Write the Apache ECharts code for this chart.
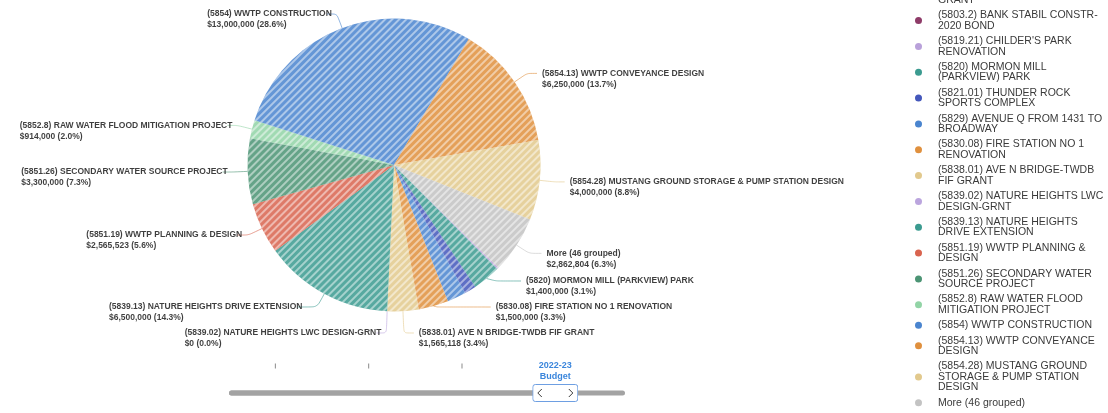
<!DOCTYPE html>
<html>
<head>
<meta charset="utf-8">
<title>Capital Projects – 2022-23 Budget</title>
<script src="https://cdn.jsdelivr.net/npm/echarts@6/dist/echarts.min.js"></script>
<style>
  html, body { margin: 0; padding: 0; background: #fff; }
  #chart { width: 1108px; height: 413px; }
</style>
</head>
<body>
<div id="chart"></div>
<script>
// ---- data -------------------------------------------------------------
const projects = [
  '(5801.35) PARKS IMPROVEMENT GRANT',
  '(5803.2) BANK STABIL CONSTR- 2020 BOND',
  "(5819.21) CHILDER'S PARK RENOVATION",
  '(5820) MORMON MILL (PARKVIEW) PARK',
  '(5821.01) THUNDER ROCK SPORTS COMPLEX',
  '(5829) AVENUE Q FROM 1431 TO BROADWAY',
  '(5830.08) FIRE STATION NO 1 RENOVATION',
  '(5838.01) AVE N BRIDGE-TWDB FIF GRANT',
  '(5839.02) NATURE HEIGHTS LWC DESIGN-GRNT',
  '(5839.13) NATURE HEIGHTS DRIVE EXTENSION',
  '(5851.19) WWTP PLANNING & DESIGN',
  '(5851.26) SECONDARY WATER SOURCE PROJECT',
  '(5852.8) RAW WATER FLOOD MITIGATION PROJECT',
  '(5854) WWTP CONSTRUCTION',
  '(5854.13) WWTP CONVEYANCE DESIGN',
  '(5854.28) MUSTANG GROUND STORAGE & PUMP STATION DESIGN',
  'More (46 grouped)'
];

const budget = [
  0, 0, 95000, 1400000, 580000, 948000, 1500000, 1565118, 0,
  6500000, 2565523, 3300000, 914000, 13000000, 6250000, 4000000, 2862804
];

const sliceColors = [
  '#5b7fc7', '#8e3b68', '#b9a1da', '#3b9b90', '#4457bb', '#4a85cf',
  '#e0903e', '#e2c98d', '#bba5de', '#3b9b90', '#d9644f', '#4c9474',
  '#92d4a6', '#4a85cf', '#e0903e', '#e2c98d', '#c3c3c3'
];

// small slices whose labels are left off to keep the outside labels readable
const unlabeled = [
  '(5801.35) PARKS IMPROVEMENT GRANT',
  '(5803.2) BANK STABIL CONSTR- 2020 BOND',
  "(5819.21) CHILDER'S PARK RENOVATION",
  '(5821.01) THUNDER ROCK SPORTS COMPLEX',
  '(5829) AVENUE Q FROM 1431 TO BROADWAY'
];

// budget-year slider
const fiscalYears  = [2019, 2020, 2021, 2022];
const fiscalLabels = ['2019-20 Budget', '2020-21 Budget', '2021-22 Budget', '2022-23 Budget'];
const sliderRange  = [2018.53, 2022.72];
const currentYear  = 2022;

// ---- layout constants -------------------------------------------------
const FONT = '"Liberation Sans", Arial, Helvetica, sans-serif';
const PIE = { cx: 394, cy: 165, r: 146.5 };
const LINE = { length: 15, length2: 10 };
const LABEL_BAND = [0, 346];     // vertical room for outside labels
const LABEL_PITCH = 26;          // minimum distance between stacked labels
const TEXT_NUDGE = 5;            // text sits this far right of the line end
const pieBox = { left: -60, right: -60, top: 0, bottom: 0 };

// ---- helpers ----------------------------------------------------------
const total = budget.reduce((a, b) => a + b, 0);
const money = v => '$' + v.toLocaleString('en-US');
const share = v => (v / total * 100).toFixed(1) + '%';

const pieData = projects.map((name, i) => {
  const item = { name: name, value: budget[i] };
  if (unlabeled.indexOf(name) >= 0) {
    item.label = { show: false };
    item.labelLine = { show: false };
  }
  return item;
});

const labelToken = {
  fontFamily: FONT, fontSize: 8.5, fontWeight: 'bold',
  color: '#1e1e1e', lineHeight: 11, align: 'left'
};

// Outside-label placement: labels on each side are stacked downward when they
// collide, pushed back up from the bottom of the band if they overflow it, and
// then re-aligned on an ellipse around the pie.
const naturalLabels = {};
let placedLabels = null;

function stackSide(list) {
  const h = LABEL_PITCH;
  list.sort((a, b) => a.y - b.y);
  let moved = false;
  let lastBottom = LABEL_BAND[0];
  list.forEach(it => {
    if (it.y - h / 2 < lastBottom) { it.y = lastBottom + h / 2; moved = true; }
    lastBottom = it.y + h / 2;
  });
  const last = list[list.length - 1];
  if (last && last.y + h / 2 > LABEL_BAND[1]) {
    last.y = LABEL_BAND[1] - h / 2;
    moved = true;
    for (let j = list.length - 2; j >= 0; j--) {
      const nextTop = list[j + 1].y - h / 2;
      if (list[j].y + h / 2 > nextTop) list[j].y = nextTop - h / 2;
      else break;
    }
  }
  return moved;
}

function alignOnEllipse(list, dir) {
  const rA = PIE.r + LINE.length;
  [list.filter(it => it.y <= PIE.cy), list.filter(it => it.y > PIE.cy)].forEach(semi => {
    if (!semi.length) return;
    let far = semi[0];
    semi.forEach(it => { if (Math.abs(it.y - PIE.cy) >= Math.abs(far.y - PIE.cy)) far = it; });
    const dyF = Math.abs(far.y - PIE.cy);
    const dxF = Math.abs(far.pts[1][0] - PIE.cx);
    const rB = dxF < rA ? Math.sqrt(dyF * dyF / (1 - dxF * dxF / (rA * rA))) : rA;
    semi.forEach(it => {
      const dy = Math.abs(it.y - PIE.cy);
      const dx = Math.sqrt(Math.max(0, 1 - dy * dy / (rB * rB))) * rA;
      it.x3 = PIE.cx + (dx + LINE.length2) * dir;
    });
  });
}

function placeLabels() {
  const sides = { '1': [], '-1': [] };
  Object.keys(naturalLabels).forEach(k => {
    const p = naturalLabels[k];
    const pts = p.labelLinePoints;
    if (!pts || pts.length < 3 || unlabeled.indexOf(projects[+k]) >= 0) return;
    const dir = p.align === 'right' ? -1 : 1;
    sides[dir].push({ i: +k, pts: pts, dir: dir, y: pts[1][1], x3: pts[2][0] });
  });
  const out = {};
  ['1', '-1'].forEach(key => {
    const list = sides[key];
    if (stackSide(list)) alignOnEllipse(list, +key);
    list.forEach(it => {
      out[it.i] = {
        x: it.x3 + TEXT_NUDGE,
        y: it.y,
        labelLinePoints: [
          [it.pts[0][0], it.pts[0][1]],
          [it.pts[1][0], it.y],
          [it.x3, it.y]
        ]
      };
    });
  });
  return out;
}

function pieLabelLayout(params) {
  if (!placedLabels) {
    naturalLabels[params.dataIndex] = params;
    return {};
  }
  return placedLabels[params.dataIndex] || {};
}

const timelineData = [sliderRange[0]].concat(fiscalYears, [sliderRange[1]]);
const currentIndex = timelineData.indexOf(currentYear);

const handleSvg =
  '<svg xmlns="http://www.w3.org/2000/svg" width="46" height="18" viewBox="0 0 46 18">' +
  '<rect x="0.5" y="0.5" width="45" height="17" rx="2.5" fill="#ffffff" stroke="#6e9fe2"/>' +
  '<path d="M9.5 5 L5.5 9 L9.5 13 M36.5 5 L40.5 9 L36.5 13" fill="none" stroke="#3a3a3a" stroke-width="1"/>' +
  '</svg>';

// ---- chart ------------------------------------------------------------
const chart = echarts.init(document.getElementById('chart'));

const option = {
  animation: false,
  color: sliceColors,
  textStyle: { fontFamily: FONT },
  legend: {
    orient: 'vertical',
    left: 915,
    top: -16,
    height: 600,
    padding: 0,
    itemGap: 4.33,
    itemWidth: 29,
    itemHeight: 7,
    icon: 'circle',
    selectedMode: false,
    itemStyle: { decal: 'none', opacity: 1, borderWidth: 0 },
    textStyle: {
      fontFamily: FONT, fontSize: 10.5, lineHeight: 10.5,
      color: '#3a3a3a', width: 170, overflow: 'break'
    }
  },
  timeline: {
    axisType: 'value',
    data: timelineData,
    currentIndex: currentIndex,
    autoPlay: false,
    left: 231.5,
    width: 391,
    bottom: 11,
    height: 50,
    padding: 0,
    symbol: 'none',
    symbolSize: 0,
    lineStyle: { color: '#a3a3a3', width: 5, cap: 'round' },
    itemStyle: { color: '#a3a3a3', borderWidth: 0 },
    progress: {
      lineStyle: { color: '#a3a3a3' },
      itemStyle: { color: '#a3a3a3' }
    },
    controlStyle: { show: false },
    label: {
      position: -10.5,
      color: '#888',
      formatter: function (value, index) {
        if (index === 0 || index === timelineData.length - 1) return '';
        if (value === currentYear) {
          const txt = fiscalLabels[fiscalYears.indexOf(value)].split(' ');
          return '{cur|' + txt[0] + '}\n{cur|' + txt[1] + '}';
        }
        return '{tick| }\n{gap| }';
      },
      rich: {
        cur: { fontFamily: FONT, fontSize: 9, fontWeight: 'bold', color: '#3b86dc', lineHeight: 11 },
        tick: { width: 1, height: 5, lineHeight: 11, backgroundColor: '#8a8a8a' },
        gap: { fontSize: 9, lineHeight: 11 }
      }
    },
    emphasis: {
      label: { color: '#888' },
      itemStyle: { color: '#a3a3a3' }
    },
    checkpointStyle: {
      symbol: 'image://data:image/svg+xml;charset=utf-8,' + encodeURIComponent(handleSvg),
      symbolSize: [46, 18],
      color: '#fff',
      borderWidth: 0,
      shadowBlur: 0,
      shadowOffsetX: 0,
      shadowOffsetY: 0,
      shadowColor: 'transparent',
      animation: false
    }
  },
  series: [{
    type: 'pie',
    left: pieBox.left,
    right: pieBox.right,
    top: pieBox.top,
    bottom: pieBox.bottom,
    center: [PIE.cx - pieBox.left, PIE.cy - pieBox.top],
    radius: PIE.r,
    startAngle: 315.5,
    clockwise: true,
    avoidLabelOverlap: false,
    data: pieData,
    itemStyle: {
      borderWidth: 0,
      opacity: 0.86,
      decal: {
        symbol: 'rect',
        symbolSize: 1,
        dashArrayX: [1, 0],
        dashArrayY: [1.7, 2.5],
        rotation: -Math.PI / 4,
        color: 'rgba(255,255,255,0.55)'
      }
    },
    label: {
      show: true,
      position: 'outside',
      distanceToLabelLine: 5,
      padding: [6.5, 0, -4.5, 0],
      formatter: function (p) {
        return '{n|' + p.name + '}\n{v|' + money(p.value) + ' (' + share(p.value) + ')}';
      },
      rich: { n: labelToken, v: labelToken }
    },
    labelLine: {
      show: true,
      length: LINE.length,
      length2: LINE.length2,
      smooth: 0.2,
      lineStyle: { width: 1, opacity: 0.6 }
    },
    labelLayout: pieLabelLayout,
    emphasis: { scale: false }
  }]
};

chart.setOption(option);
placedLabels = placeLabels();
chart.setOption(option);
</script>
</body>
</html>
